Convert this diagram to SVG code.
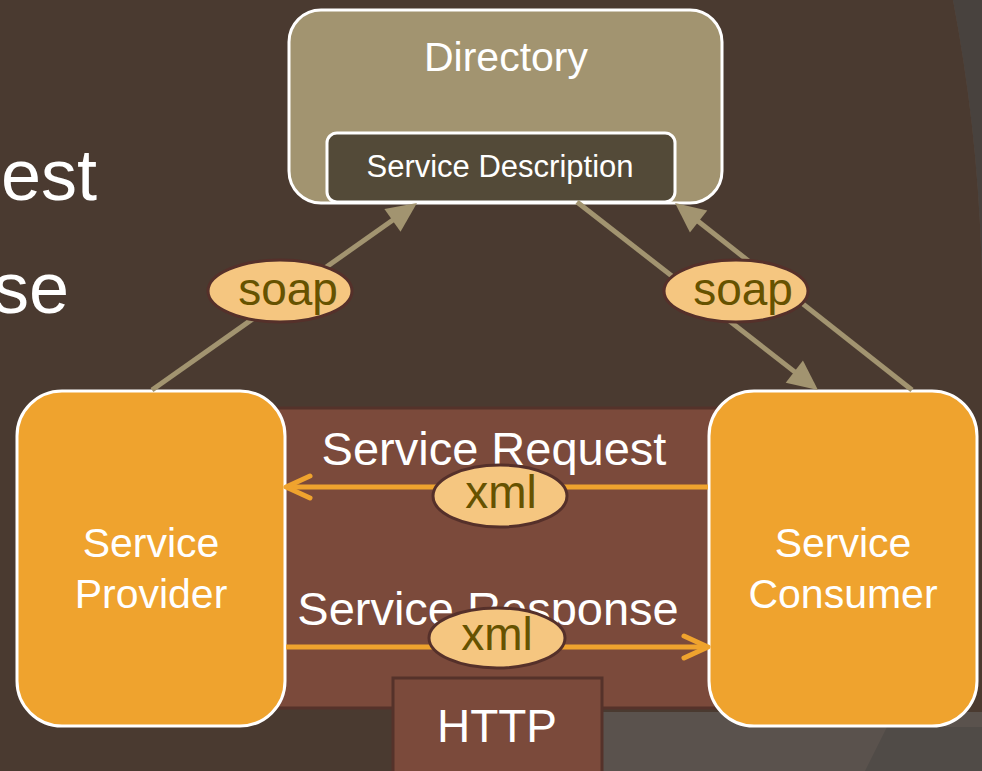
<svg xmlns="http://www.w3.org/2000/svg" width="982" height="771" viewBox="0 0 982 771">
<style>
  text { font-family: "Liberation Sans", Arial, sans-serif; }
  .white { fill: #ffffff; }
  .box { fill: #efa32e; stroke: #ffffff; stroke-width: 3; }
  .soapline { stroke: #a29470; stroke-width: 5; fill: none; }
  .xmlline { stroke: #efa32e; stroke-width: 5; fill: none; }
  .pill { fill: #f5c680; stroke: #55302a; stroke-width: 3; }
  .pilltext { fill: #665200; font-size: 46px; text-anchor: middle; }
  .brown { fill: #7b4a3b; stroke: #55322a; stroke-width: 3; }
</style>
<defs>
  <marker id="tri" markerUnits="userSpaceOnUse" markerWidth="30" markerHeight="28" refX="20" refY="14" orient="auto" overflow="visible">
    <path d="M0,0 L30,14 L0,28 z" fill="#a29470"/>
  </marker>
  <marker id="chev" markerUnits="userSpaceOnUse" markerWidth="30" markerHeight="28" refX="27" refY="14" orient="auto" overflow="visible">
    <path d="M3,3 L27,14 L3,25" fill="none" stroke="#efa32e" stroke-width="5" stroke-linecap="round" stroke-linejoin="round"/>
  </marker>
</defs>

<!-- background -->
<rect x="0" y="0" width="982" height="771" fill="#5a524d"/>
<path d="M953,0 L982,0 L982,280 C980,180 970,90 953,0 Z" fill="#48423e"/>
<path d="M887,727 L982,727 L982,771 L865,771 Z" fill="#504b47"/>
<path d="M0,0 L953,0 C970,90 980,180 982,280 L982,712 L600,712 Q450,720 395,771 L0,771 Z" fill="#4a3a30"/>

<!-- partial title text -->
<g id="title-fragments">
  <text x="97" y="200" class="white" font-size="72" text-anchor="end">est</text>
  <text x="69" y="313" class="white" font-size="72" text-anchor="end">se</text>
</g>

<!-- HTTP channel -->
<g id="http-channel">
  <rect x="250" y="408" width="490" height="300" class="brown"/>
  <rect x="393" y="678" width="209" height="100" class="brown"/>
  <text x="497" y="742" class="white" font-size="46" text-anchor="middle">HTTP</text>
</g>

<!-- Directory -->
<g id="directory">
  <rect x="289" y="10" width="433" height="193" rx="32" fill="#a29470" stroke="#ffffff" stroke-width="3"/>
  <text x="506" y="71" class="white" font-size="41" text-anchor="middle">Directory</text>
</g>
<g id="service-description">
  <rect x="327" y="133" width="348" height="69" rx="10" fill="#534a38" stroke="#ffffff" stroke-width="3"/>
  <text x="500" y="177" class="white" font-size="31" text-anchor="middle">Service Description</text>
</g>

<!-- Provider -->
<g id="service-provider">
  <rect x="17" y="391" width="268" height="335" rx="45" class="box"/>
  <text x="151" y="557" class="white" font-size="41" text-anchor="middle">Service</text>
  <text x="151" y="608" class="white" font-size="41" text-anchor="middle">Provider</text>
</g>

<!-- Consumer -->
<g id="service-consumer">
  <rect x="709" y="391" width="268" height="335" rx="45" class="box"/>
  <text x="843" y="557" class="white" font-size="41" text-anchor="middle">Service</text>
  <text x="843" y="608" class="white" font-size="41" text-anchor="middle">Consumer</text>
</g>

<!-- connectors -->
<g id="connectors">
  <line x1="152" y1="390" x2="408.8" y2="208.8" class="soapline" marker-end="url(#tri)"/>
  <line x1="577" y1="202" x2="810.1" y2="383.9" class="soapline" marker-end="url(#tri)"/>
  <line x1="912" y1="390" x2="682.9" y2="209.2" class="soapline" marker-end="url(#tri)"/>

  <line x1="708" y1="487" x2="286" y2="487" class="xmlline" marker-end="url(#chev)"/>
  <line x1="286" y1="647" x2="708" y2="647" class="xmlline" marker-end="url(#chev)"/>

  <text x="494" y="465" class="white" font-size="47" text-anchor="middle">Service Request</text>
  <text x="488" y="625" class="white" font-size="47" text-anchor="middle">Service Response</text>

  <g id="label-soap-left">
    <ellipse cx="280" cy="291" rx="72" ry="31" class="pill"/>
    <text x="288" y="305" class="pilltext">soap</text>
  </g>
  <g id="label-soap-right">
    <ellipse cx="736" cy="291" rx="72" ry="31" class="pill"/>
    <text x="743" y="305" class="pilltext">soap</text>
  </g>
  <g id="label-xml-request">
    <ellipse cx="500" cy="496" rx="67" ry="31" class="pill"/>
    <text x="501" y="508" class="pilltext">xml</text>
  </g>
  <g id="label-xml-response">
    <ellipse cx="497" cy="638" rx="68" ry="30" class="pill"/>
    <text x="497" y="650" class="pilltext">xml</text>
  </g>
</g>
</svg>
